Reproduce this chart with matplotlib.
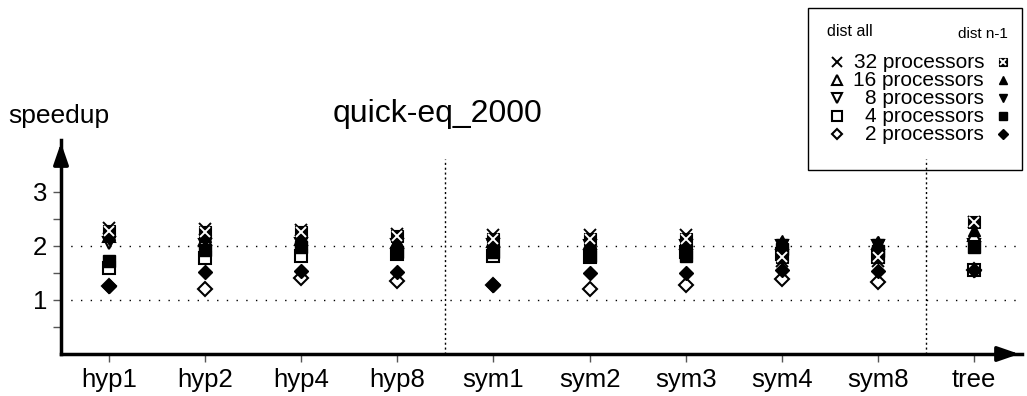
import matplotlib
matplotlib.use('Agg')
import matplotlib.pyplot as plt
from matplotlib.patches import Rectangle

plt.rcParams['font.family'] = ['Liberation Sans', 'DejaVu Sans']

# categorias (programas) e speedup
cats = ['hyp1', 'hyp2', 'hyp4', 'hyp8', 'sym1', 'sym2', 'sym3', 'sym4', 'sym8', 'tree']
procs = [32, 16, 8, 4, 2]

# dist all
p32_all = [2.33, 2.32, 2.30, 2.22, 2.20, 2.20, 2.20, 1.72, 1.72, 2.45]
p16_all = [2.18, 2.12, 2.12, 2.08, 2.10, 2.06, 2.06, 2.05, 2.05, 2.20]
p8_all = [2.05, 2.02, 2.04, 2.02, 2.02, 2.00, 2.00, 2.00, 2.00, 2.02]
p4_all = [1.60, 1.78, 1.82, 1.85, 1.82, 1.80, 1.88, 1.85, 1.80, 1.55]
p2_all = [1.25, 1.20, 1.40, 1.35, 1.27, 1.20, 1.28, 1.38, 1.33, 1.55]

# dist n-1
p32_n1 = [2.28, 2.25, 2.25, 2.18, 2.12, 2.12, 2.12, 1.80, 1.80, 2.45]
p16_n1 = [2.22, 2.18, 2.18, 2.10, 2.12, 2.08, 2.08, 2.10, 2.08, 2.30]
p8_n1 = [2.12, 2.10, 2.10, 2.05, 2.05, 2.05, 2.03, 2.02, 2.02, 1.98]
p4_n1 = [1.72, 1.92, 1.98, 1.88, 1.88, 1.82, 1.82, 1.95, 1.90, 1.98]
p2_n1 = [1.25, 1.52, 1.53, 1.52, 1.27, 1.50, 1.50, 1.55, 1.53, 1.55]

dist_all = [p32_all, p16_all, p8_all, p4_all, p2_all]
dist_n1 = [p32_n1, p16_n1, p8_n1, p4_n1, p2_n1]
markers = ['x', '^', 'v', 's', 'D']

W, H = 1027, 396
fig = plt.figure(figsize=(W / 100, H / 100), dpi=100)
ax = fig.add_axes([61 / W, 1 - 354 / H, (1022 - 61) / W, (354 - 140) / H])

x = list(range(len(cats)))


def marca(axis, xs, ys, mk, cheio, ms):
    # desenha um marcador aberto (fundo branco) ou cheio
    if mk == 'x':
        if cheio:
            axis.plot(xs, ys, ls='none', marker='s', ms=ms * 0.95, mfc='k', mec='k', mew=0.8)
            axis.plot(xs, ys, ls='none', marker='x', ms=ms * 0.8, mec='w', mew=1.4)
        else:
            axis.plot(xs, ys, ls='none', marker='x', ms=ms, mec='k', mew=1.4)
        return
    size = ms * 0.8 if mk == 'D' else ms
    if cheio:
        axis.plot(xs, ys, ls='none', marker=mk, ms=size, mfc='k', mec='k', mew=1.0)
    else:
        axis.plot(xs, ys, ls='none', marker=mk, ms=size, mfc='w', mec='k', mew=1.5)


# abertos primeiro, cheios por cima
for i in range(len(procs) - 1, -1, -1):
    marca(ax, x, dist_all[i], markers[i], False, 9)
for i in range(len(procs) - 1, -1, -1):
    marca(ax, x, dist_n1[i], markers[i], True, 9)

ax.set_xlim(-0.5, 9.5)
ax.set_ylim(0, 3.96)
for s in ['top', 'right']:
    ax.spines[s].set_visible(False)
ax.spines['left'].set_linewidth(2.5)
ax.spines['bottom'].set_linewidth(2.5)

# setas dos eixos
ax.annotate('', xy=(1.0, 0), xycoords='axes fraction', xytext=(0.97, 0),
            arrowprops=dict(arrowstyle='-|>,head_length=1.3,head_width=0.45', color='k', lw=2.5))
ax.annotate('', xy=(0, 1.0), xycoords='axes fraction', xytext=(0, 0.9),
            arrowprops=dict(arrowstyle='-|>,head_length=1.3,head_width=0.45', color='k', lw=2.5))

ax.set_xticks(x)
ax.set_xticklabels(cats, fontsize=18.5)
ax.set_yticks([1, 2, 3])
ax.set_yticklabels(['1', '2', '3'], fontsize=18.5)
ax.set_yticks([0.5, 1.5, 2.5], minor=True)
ax.tick_params(axis='both', which='both', direction='out', length=6, width=1, color='#555555', pad=4)

ax.axhline(1, color='k', ls=(0, (1, 6)), lw=1)
ax.axhline(2, color='k', ls=(0, (1, 6)), lw=1)
ax.vlines([3.5, 8.5], 0, 3.6, colors='k', linestyles=(0, (1.5, 2)), lw=1)

fig.text(8 / W, 1 - 116 / H, 'speedup', fontsize=19, ha='left', va='center')
fig.text(437 / W, 1 - 114 / H, 'quick-eq_2000', fontsize=23, ha='center', va='center')

# legenda desenhada a mao
lg = fig.add_axes([0, 0, 1, 1], facecolor='none')
lg.set_xlim(0, W)
lg.set_ylim(H, 0)
lg.axis('off')
lg.add_patch(Rectangle((808, 8), 214, 162, fill=False, ec='k', lw=1))
lg.text(827, 32, 'dist all', fontsize=11.5, ha='left', va='center')
lg.text(1008, 34, 'dist n-1', fontsize=11, ha='right', va='center')
linhas = [62, 80, 98, 116, 134]
for i, p in enumerate(procs):
    yy = linhas[i]
    marca(lg, [837], [yy], markers[i], False, 6.5)
    marca(lg, [1003], [yy], markers[i], True, 6)
    lg.text(984, yy, f'{p} processors', fontsize=15, ha='right', va='center')

fig.savefig('out.png', dpi=100)
